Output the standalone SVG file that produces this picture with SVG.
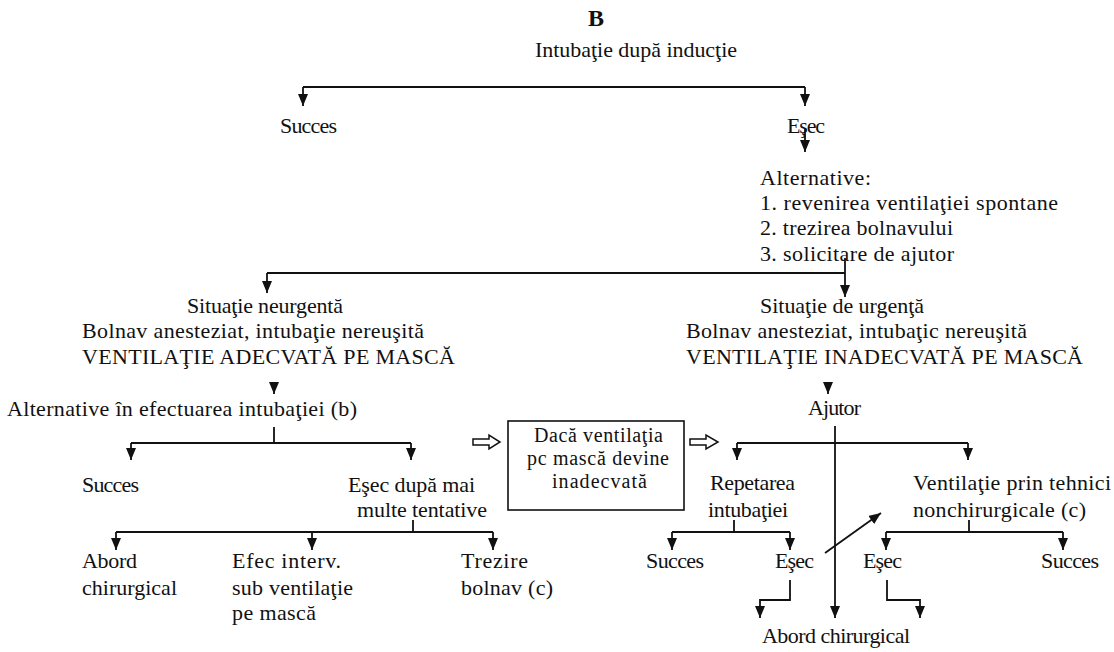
<svg xmlns="http://www.w3.org/2000/svg" width="1114" height="652" viewBox="0 0 1114 652">
<style>
text{font-family:"Liberation Serif","Times New Roman",serif;font-size:22px;fill:#111;}
.b{font-weight:bold;font-size:24px;}
.bx{font-size:20px;}
.ln{stroke:#111;stroke-width:1.8;fill:none;}
.ar{stroke:#111;stroke-width:1.8;fill:none;marker-end:url(#ah);}
.box{stroke:#111;stroke-width:1.6;fill:#fff;}
.ha{stroke:#111;stroke-width:1.5;fill:#fff;}
</style>
<defs>
<marker id="ah" viewBox="0 0 12 10" refX="12" refY="5" markerWidth="12" markerHeight="10" markerUnits="userSpaceOnUse" orient="auto">
<path d="M0,0 L12,5 L0,10 z" fill="#111"/>
</marker>
</defs>
<rect width="1114" height="652" fill="#fff"/>

<g id="connectors">
<path class="ln" d="M303,87 H805"/>
<path class="ar" d="M303,87 V106"/>
<path class="ar" d="M805,87 V106"/>
<path class="ar" d="M805,128 V152"/>
<path class="ln" d="M267,273 H845"/>
<path class="ar" d="M267,273 V293"/>
<path class="ar" d="M845,258 V297"/>
<path class="ar" d="M274,382 V394"/>
<path class="ar" d="M828,382 V394"/>
<path class="ln" d="M274,427 V443 M131,443 H411"/>
<path class="ar" d="M131,443 V460"/>
<path class="ar" d="M411,443 V460"/>
<path class="ln" d="M413,520 V532 M116,532 H493"/>
<path class="ar" d="M116,532 V550"/>
<path class="ar" d="M312,532 V550"/>
<path class="ar" d="M493,532 V550"/>
<path class="ar" d="M835,426 V618"/>
<path class="ln" d="M737,443 H968"/>
<path class="ar" d="M737,443 V460"/>
<path class="ar" d="M968,443 V460"/>
<path class="ln" d="M734,520 V532 M672,532 H790"/>
<path class="ar" d="M672,532 V550"/>
<path class="ar" d="M790,532 V550"/>
<path class="ar" d="M825,553 L881,513"/>
<path class="ln" d="M969,520 V532 M886,532 H1063"/>
<path class="ar" d="M886,532 V550"/>
<path class="ar" d="M1063,532 V550"/>
<path class="ar" d="M790,580 V600 H760 V618"/>
<path class="ar" d="M887,580 V600 H920 V618"/>
<polygon class="ha" points="473,439 489,439 489,435 500,442 489,449 489,445 473,445"/>
<polygon class="ha" points="690,439 706,439 706,435 718,442 706,449 706,445 690,445"/>
</g>

<g id="title"><text class="b" x="596" y="26" text-anchor="middle">B</text></g>
<g id="n-intubatie"><text x="535" y="57" textLength="202" lengthAdjust="spacing">Intubaţie după inducţie</text></g>
<g id="n-succes1"><text x="280" y="133" textLength="57" lengthAdjust="spacing">Succes</text></g>
<g id="n-esec1"><text x="787" y="133" textLength="38" lengthAdjust="spacing">Eşec</text></g>
<g id="n-alternative">
<text x="760" y="185" textLength="111" lengthAdjust="spacing">Alternative:</text>
<text x="760" y="210" textLength="298" lengthAdjust="spacing">1. revenirea ventilaţiei spontane</text>
<text x="760" y="235" textLength="193" lengthAdjust="spacing">2. trezirea bolnavului</text>
<text x="760" y="261" textLength="194" lengthAdjust="spacing">3. solicitare de ajutor</text>
</g>
<g id="n-neurgenta">
<text x="187" y="313" textLength="156" lengthAdjust="spacing">Situaţie neurgentă</text>
<text x="82" y="338" textLength="342" lengthAdjust="spacing">Bolnav anesteziat, intubaţie nereuşită</text>
<text x="82" y="364" textLength="373" lengthAdjust="spacing">VENTILAŢIE ADECVATĂ PE MASCĂ</text>
</g>
<g id="n-urgenta">
<text x="760" y="313" textLength="164" lengthAdjust="spacing">Situaţie de urgenţă</text>
<text x="686" y="338" textLength="341" lengthAdjust="spacing">Bolnav anesteziat, intubaţic nereuşită</text>
<text x="686" y="364" textLength="397" lengthAdjust="spacing">VENTILAŢIE INADECVATĂ PE MASCĂ</text>
</g>
<g id="n-alt-intubatie"><text x="7" y="416" textLength="350" lengthAdjust="spacing">Alternative în efectuarea intubaţiei (b)</text></g>
<g id="n-ajutor"><text x="808" y="415" textLength="53" lengthAdjust="spacing">Ajutor</text></g>
<g id="n-box">
<rect class="box" x="508" y="421" width="176" height="89"/>
<text class="bx" x="534" y="442" textLength="129" lengthAdjust="spacing">Dacă ventilaţia</text>
<text class="bx" x="527" y="465" textLength="142" lengthAdjust="spacing">pc mască devine</text>
<text class="bx" x="552" y="488" textLength="95" lengthAdjust="spacing">inadecvată</text>
</g>
<g id="n-succes2"><text x="82" y="492" textLength="57" lengthAdjust="spacing">Succes</text></g>
<g id="n-esec-tentative">
<text x="348" y="492" textLength="127" lengthAdjust="spacing">Eşec după mai</text>
<text x="357" y="517" textLength="130" lengthAdjust="spacing">multe tentative</text>
</g>
<g id="n-repetarea">
<text x="710" y="490" textLength="85" lengthAdjust="spacing">Repetarea</text>
<text x="708" y="517" textLength="80" lengthAdjust="spacing">intubaţiei</text>
</g>
<g id="n-ventilatie-tehnici">
<text x="913" y="490" textLength="198" lengthAdjust="spacing">Ventilaţie prin tehnici</text>
<text x="913" y="517" textLength="173" lengthAdjust="spacing">nonchirurgicale (c)</text>
</g>
<g id="n-abord1">
<text x="82" y="568" textLength="55" lengthAdjust="spacing">Abord</text>
<text x="82" y="595" textLength="95" lengthAdjust="spacing">chirurgical</text>
</g>
<g id="n-efec">
<text x="232" y="568" textLength="109" lengthAdjust="spacing">Efec interv.</text>
<text x="232" y="595" textLength="121" lengthAdjust="spacing">sub ventilaţie</text>
<text x="232" y="620" textLength="84" lengthAdjust="spacing">pe mască</text>
</g>
<g id="n-trezire">
<text x="461" y="568" textLength="67" lengthAdjust="spacing">Trezire</text>
<text x="461" y="595" textLength="92" lengthAdjust="spacing">bolnav (c)</text>
</g>
<g id="n-succes3"><text x="646" y="568" textLength="58" lengthAdjust="spacing">Succes</text></g>
<g id="n-esec3"><text x="775" y="568" textLength="39" lengthAdjust="spacing">Eşec</text></g>
<g id="n-esec4"><text x="863" y="568" textLength="39" lengthAdjust="spacing">Eşec</text></g>
<g id="n-succes4"><text x="1041" y="568" textLength="58" lengthAdjust="spacing">Succes</text></g>
<g id="n-abord2"><text x="762" y="643" textLength="148" lengthAdjust="spacing">Abord chirurgical</text></g>
</svg>
